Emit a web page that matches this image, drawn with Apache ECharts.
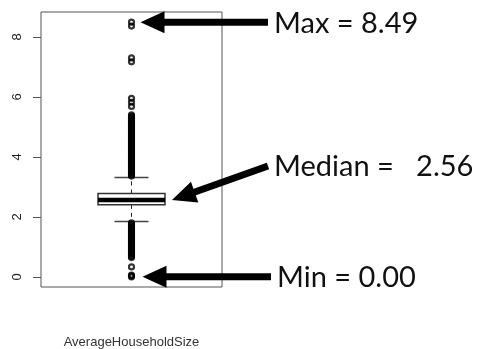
<!DOCTYPE html>
<html>
<head>
<meta charset="utf-8">
<script src="https://cdn.jsdelivr.net/npm/echarts@6/dist/echarts.min.js"></script>
<style>
  html, body { margin: 0; padding: 0; background: #fff; }
  #chart { width: 479px; height: 349px; }
</style>
</head>
<body>
<div id="chart"></div>
<script>
// Box plot of average household size with summary annotations.
const categories = ['AverageHouseholdSize'];

// [lower whisker, Q1, median, Q3, upper whisker]
const boxStats = [1.84, 2.40, 2.56, 2.78, 3.31];

// Points beyond the whiskers
const upperOutliers = [
  3.36, 3.40, 3.44, 3.48, 3.52, 3.56, 3.60, 3.64, 3.68, 3.72, 3.76, 3.80,
  3.84, 3.88, 3.92, 3.96, 4.00, 4.04, 4.08, 4.12, 4.16, 4.20, 4.24, 4.28,
  4.32, 4.36, 4.40, 4.44, 4.48, 4.52, 4.56, 4.60, 4.64, 4.68, 4.72, 4.76,
  4.80, 4.84, 4.88, 4.92, 4.96, 5.00, 5.04, 5.08, 5.12, 5.16, 5.20, 5.24,
  5.28, 5.32, 5.36, 5.40, 5.68, 5.82, 5.95, 7.17, 7.30, 8.36, 8.49
];
const lowerOutliers = [
  1.80, 1.76, 1.72, 1.68, 1.64, 1.60, 1.56, 1.52, 1.48, 1.44, 1.40, 1.36,
  1.32, 1.28, 1.24, 1.20, 1.16, 1.12, 1.08, 1.04, 1.00, 0.96, 0.92, 0.88,
  0.84, 0.80, 0.76, 0.72, 0.68, 0.64, 0.33, 0.06, 0.03, 0.00
];

// Summary annotations
const noteLabels = ['Max = 8.49', 'Median =   2.56', 'Min = 0.00'];
const noteValues = [8.49, 2.56, 0.00];

// Y axis tick positions
const yTicks = [0, 2, 4, 6, 8];

const chart = echarts.init(document.getElementById('chart'), null, { renderer: 'canvas' });

const BOX_HALF = 33.5;
const CAP_HALF = 17;

function renderBox(params, api) {
  const x = api.value(0);
  const lo = api.coord([x, api.value(1)]);
  const q1 = api.coord([x, api.value(2)]);
  const med = api.coord([x, api.value(3)]);
  const q3 = api.coord([x, api.value(4)]);
  const hi = api.coord([x, api.value(5)]);
  const cx = med[0];
  const whisker = { stroke: '#222', lineWidth: 1, lineDash: [4, 4] };
  const cap = { stroke: '#444', lineWidth: 1.5 };
  return {
    type: 'group',
    children: [
      { type: 'line', shape: { x1: cx, y1: q3[1], x2: cx, y2: hi[1] }, style: whisker },
      { type: 'line', shape: { x1: cx, y1: q1[1], x2: cx, y2: lo[1] }, style: whisker },
      { type: 'line', shape: { x1: cx - CAP_HALF, y1: hi[1], x2: cx + CAP_HALF, y2: hi[1] }, style: cap },
      { type: 'line', shape: { x1: cx - CAP_HALF, y1: lo[1], x2: cx + CAP_HALF, y2: lo[1] }, style: cap },
      { type: 'rect', shape: { x: cx - BOX_HALF, y: q3[1], width: BOX_HALF * 2, height: q1[1] - q3[1] },
        style: { fill: '#fff', stroke: '#333', lineWidth: 1.5 } },
      { type: 'line', shape: { x1: cx - BOX_HALF, y1: med[1], x2: cx + BOX_HALF, y2: med[1] },
        style: { stroke: '#000', lineWidth: 4.5 } }
    ]
  };
}

// Arrow geometry per annotation: horizontal offset of the tip from the
// box centre, x of the tail, and vertical rise of the tail above the tip.
const arrowGeom = [
  { tipDx: 9, tailX: 268, rise: 0 },
  { tipDx: BOX_HALF + 7, tailX: 268, rise: 34 },
  { tipDx: 11, tailX: 271, rise: 0 }
];

function renderNote(params, api) {
  const i = params.dataIndex;
  const g = arrowGeom[i];
  const p = api.coord([api.value(0), api.value(1)]);
  const tip = [p[0] + g.tipDx, p[1]];
  const tail = [g.tailX, p[1] - g.rise];
  const dx = tail[0] - tip[0], dy = tail[1] - tip[1];
  const len = Math.sqrt(dx * dx + dy * dy);
  const ux = dx / len, uy = dy / len;
  const headLen = 24, headHalf = 11;
  const base = [tip[0] + ux * headLen, tip[1] + uy * headLen];
  const head = [
    tip,
    [base[0] - uy * headHalf, base[1] + ux * headHalf],
    [base[0] + uy * headHalf, base[1] - ux * headHalf]
  ];
  return {
    type: 'group',
    children: [
      { type: 'line', shape: { x1: base[0] - ux * 2, y1: base[1] - uy * 2, x2: tail[0], y2: tail[1] },
        style: { stroke: '#000', lineWidth: 7 } },
      { type: 'polygon', shape: { points: head }, style: { fill: '#000' } },
      { type: 'text', x: tail[0] + 6, y: tail[1] + 1,
        style: { text: noteLabels[i], fill: '#111', font: '29px Lato', align: 'left', verticalAlign: 'middle' } }
    ]
  };
}

const outlierData = upperOutliers.concat(lowerOutliers).map(v => [0, v]);

chart.setOption({
  backgroundColor: '#fff',
  animation: false,
  grid: {
    left: 41, right: 257, top: 12, bottom: 62,
    outerBoundsMode: 'none',
    show: true, borderColor: '#555', borderWidth: 1, backgroundColor: 'transparent'
  },
  xAxis: {
    type: 'category',
    data: categories,
    axisLine: { show: false },
    axisTick: { show: false },
    axisLabel: { show: false },
    name: categories[0],
    nameLocation: 'middle',
    nameGap: 49,
    nameTextStyle: { fontFamily: 'Liberation Sans', fontSize: 13, color: '#333' }
  },
  yAxis: {
    type: 'value',
    min: -0.34,
    max: 8.83,
    axisLine: { show: false },
    splitLine: { show: false },
    axisTick: { show: true, length: 8, customValues: yTicks, lineStyle: { color: '#555' } },
    axisLabel: { customValues: yTicks, rotate: 90, margin: 17, fontFamily: 'Liberation Sans', fontSize: 13, color: '#222' }
  },
  series: [
    {
      type: 'custom',
      renderItem: renderBox,
      encode: { x: 0, y: [1, 2, 3, 4, 5] },
      data: [[0].concat(boxStats)],
      z: 2
    },
    {
      type: 'scatter',
      data: outlierData,
      symbol: 'circle',
      symbolSize: 5,
      itemStyle: { color: 'rgba(255,255,255,0)', borderColor: '#000', borderWidth: 2.2 },
      z: 3
    },
    {
      type: 'custom',
      renderItem: renderNote,
      encode: { x: 0, y: 1 },
      data: noteValues.map(v => [0, v]),
      clip: false,
      z: 4
    }
  ]
});
</script>
</body>
</html>
